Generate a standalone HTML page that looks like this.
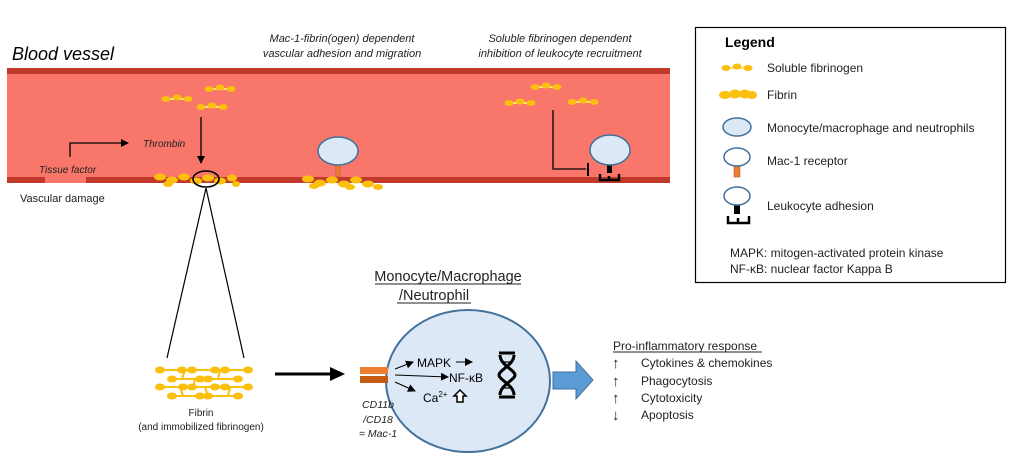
<!DOCTYPE html>
<html><head><meta charset="utf-8"><style>
html,body{margin:0;padding:0;background:#fff;}
svg{display:block;font-family:"Liberation Sans",sans-serif;}
</style></head><body>
<svg width="1016" height="464" viewBox="0 0 1016 464" xmlns="http://www.w3.org/2000/svg">
<defs>
<g id="sf"><line x1="0" y1="0" x2="30" y2="0" stroke="#ffe08a" stroke-width="2"/><ellipse cx="4" cy="0" rx="4.5" ry="3" fill="#fbbf0d"/><ellipse cx="15" cy="-1.5" rx="4.5" ry="3" fill="#fbbf0d"/><ellipse cx="26" cy="0" rx="4.5" ry="3" fill="#fbbf0d"/></g>
<marker id="ah" markerWidth="8" markerHeight="8" refX="7" refY="4" orient="auto" markerUnits="userSpaceOnUse"><path d="M0,0 L8,4 L0,8z" fill="#000"/></marker>
</defs>
<rect x="7" y="68" width="663" height="115" fill="#f8766a"/>
<rect x="7" y="68" width="663" height="6" fill="#c0392b"/>
<rect x="7" y="177" width="663" height="6" fill="#c0392b"/>
<rect x="45" y="177" width="41" height="6" fill="#f8766a"/>
<text x="12" y="60" font-size="18" font-style="italic" fill="#000">Blood vessel</text>
<text x="342" y="42" font-size="11" font-style="italic" text-anchor="middle" fill="#222">Mac-1-fibrin(ogen) dependent</text>
<text x="342" y="57" font-size="11" font-style="italic" text-anchor="middle" fill="#222">vascular adhesion and migration</text>
<text x="560" y="42" font-size="11" font-style="italic" text-anchor="middle" fill="#222">Soluble fibrinogen dependent</text>
<text x="560" y="57" font-size="11" font-style="italic" text-anchor="middle" fill="#222">inhibition of leukocyte recruitment</text>
<text x="39" y="173" font-size="10" font-style="italic" fill="#222">Tissue factor</text>
<text x="20" y="202" font-size="11" fill="#222">Vascular damage</text>
<use href="#sf" x="162" y="99"/><use href="#sf" x="205" y="89"/><use href="#sf" x="197" y="107"/>
<use href="#sf" x="531" y="87"/><use href="#sf" x="505" y="103"/><use href="#sf" x="568" y="102"/>
<path d="M70,157 V143 H128" fill="none" stroke="#000" stroke-width="1.3" marker-end="url(#ah)"/>
<text x="143" y="147" font-size="10" font-style="italic" fill="#222">Thrombin</text>
<line x1="201" y1="117" x2="201" y2="163" stroke="#000" stroke-width="1.3" marker-end="url(#ah)"/>
<g fill="#fbbf0d">
<ellipse cx="160" cy="177" rx="6" ry="3.5"/><ellipse cx="172" cy="180" rx="6" ry="3.5"/><ellipse cx="184" cy="177" rx="6" ry="3.5"/><ellipse cx="196" cy="181" rx="6" ry="3.5"/><ellipse cx="208" cy="178" rx="6" ry="3.5"/><ellipse cx="220" cy="181" rx="6" ry="3.5"/><ellipse cx="232" cy="178" rx="5" ry="3.5"/><ellipse cx="236" cy="184" rx="4" ry="3"/><ellipse cx="168" cy="184" rx="5" ry="3"/>
<ellipse cx="308" cy="179" rx="6" ry="3.5"/><ellipse cx="320" cy="183" rx="6" ry="3.5"/><ellipse cx="332" cy="180" rx="6" ry="3.5"/><ellipse cx="344" cy="184" rx="6" ry="3.5"/><ellipse cx="356" cy="180" rx="6" ry="3.5"/><ellipse cx="368" cy="184" rx="6" ry="3.5"/><ellipse cx="378" cy="187" rx="5" ry="3"/><ellipse cx="314" cy="186" rx="5" ry="3"/><ellipse cx="350" cy="187" rx="5" ry="3"/>
</g>
<ellipse cx="206" cy="179" rx="13" ry="8" fill="none" stroke="#000" stroke-width="1.6"/>
<rect x="336" y="165" width="4" height="12" fill="#ed7d31" stroke="#a0522d" stroke-width="0.5"/>
<ellipse cx="338" cy="151" rx="20" ry="14" fill="#dce8f5" stroke="#41719c" stroke-width="1.5"/>
<path d="M553,110 V169 H586" fill="none" stroke="#000" stroke-width="1.3"/>
<line x1="588" y1="163" x2="588" y2="176" stroke="#000" stroke-width="2"/>
<rect x="607" y="165" width="5" height="8" fill="#000"/>
<path d="M600,174 V180 H619 V174 M609,176 V180" fill="none" stroke="#000" stroke-width="2.5"/>
<ellipse cx="610" cy="150" rx="20" ry="15" fill="#dce8f5" stroke="#41719c" stroke-width="1.5"/>
<line x1="206" y1="188" x2="167" y2="358" stroke="#000" stroke-width="1.2"/>
<line x1="206" y1="188" x2="244" y2="358" stroke="#000" stroke-width="1.2"/>
<g stroke="#fbbf0d" stroke-width="2" fill="none">
<line x1="160" y1="370" x2="250" y2="370"/><line x1="170" y1="379" x2="240" y2="379"/><line x1="160" y1="387" x2="250" y2="387"/><line x1="170" y1="396" x2="240" y2="396"/>
<line x1="185" y1="370" x2="182" y2="379"/><line x1="220" y1="370" x2="218" y2="379"/><line x1="195" y1="379" x2="193" y2="387"/><line x1="205" y1="387" x2="208" y2="396"/><line x1="180" y1="387" x2="183" y2="396"/><line x1="230" y1="387" x2="228" y2="396"/>
</g>
<g fill="#fbbf0d">
<ellipse cx="160" cy="370" rx="5" ry="3.5"/><ellipse cx="182" cy="370" rx="5" ry="3.5"/><ellipse cx="192" cy="370" rx="5" ry="3.5"/><ellipse cx="215" cy="370" rx="5" ry="3.5"/><ellipse cx="225" cy="370" rx="5" ry="3.5"/><ellipse cx="248" cy="370" rx="5" ry="3.5"/>
<ellipse cx="172" cy="379" rx="5" ry="3.5"/><ellipse cx="200" cy="379" rx="5" ry="3.5"/><ellipse cx="208" cy="379" rx="5" ry="3.5"/><ellipse cx="238" cy="379" rx="5" ry="3.5"/>
<ellipse cx="160" cy="387" rx="5" ry="3.5"/><ellipse cx="183" cy="387" rx="5" ry="3.5"/><ellipse cx="192" cy="387" rx="5" ry="3.5"/><ellipse cx="215" cy="387" rx="5" ry="3.5"/><ellipse cx="225" cy="387" rx="5" ry="3.5"/><ellipse cx="248" cy="387" rx="5" ry="3.5"/>
<ellipse cx="172" cy="396" rx="5" ry="3.5"/><ellipse cx="200" cy="396" rx="5" ry="3.5"/><ellipse cx="208" cy="396" rx="5" ry="3.5"/><ellipse cx="238" cy="396" rx="5" ry="3.5"/>
</g>
<text x="201" y="416" font-size="10" text-anchor="middle" fill="#222">Fibrin</text>
<text x="201" y="430" font-size="10" text-anchor="middle" fill="#222">(and immobilized fibrinogen)</text>
<line x1="275" y1="374" x2="332" y2="374" stroke="#000" stroke-width="3"/>
<path d="M330,367 L345,374 L330,381z" fill="#000"/>
<text x="448" y="281" font-size="14.5" text-anchor="middle" fill="#222">Monocyte/Macrophage</text>
<line x1="375" y1="284" x2="521" y2="284" stroke="#222" stroke-width="1"/>
<text x="434" y="300" font-size="14.5" text-anchor="middle" fill="#222">/Neutrophil</text>
<line x1="397" y1="303" x2="471" y2="303" stroke="#222" stroke-width="1"/>
<ellipse cx="468" cy="381" rx="82" ry="71" fill="#dce8f5" stroke="#41719c" stroke-width="2"/>
<rect x="360" y="367" width="28" height="7" fill="#ed7d31"/>
<rect x="360" y="376" width="28" height="7" fill="#c55a11"/>
<text x="378" y="408" font-size="10.5" font-style="italic" text-anchor="middle" fill="#222">CD11b</text>
<text x="378" y="423" font-size="10.5" font-style="italic" text-anchor="middle" fill="#222">/CD18</text>
<text x="378" y="437" font-size="10.5" font-style="italic" text-anchor="middle" fill="#222">= Mac-1</text>
<g stroke="#000" stroke-width="1" fill="none">
<line x1="395" y1="369" x2="413" y2="362" marker-end="url(#ah)"/>
<line x1="456" y1="362" x2="472" y2="362" marker-end="url(#ah)"/>
<line x1="395" y1="375" x2="448" y2="377" marker-end="url(#ah)"/>
<line x1="395" y1="382" x2="415" y2="391" marker-end="url(#ah)"/>
</g>
<text x="417" y="367" font-size="12" fill="#000">MAPK</text>
<text x="449" y="382" font-size="12" fill="#000">NF-κB</text>
<text x="423" y="402" font-size="12" fill="#000">Ca<tspan font-size="8" dy="-5">2+</tspan></text>
<path d="M460,390 L466,396 H463 V402 H457 V396 H454z" fill="#fff" stroke="#000" stroke-width="1.5"/>
<g stroke="#000" stroke-width="3" fill="none">
<path d="M499,353 H515 M499,397 H515"/>
<path d="M500,355 C500,365 515,370 515,375 C515,380 500,385 500,395"/>
<path d="M514,355 C514,365 499,370 499,375 C499,380 514,385 514,395"/>
</g>
<g stroke="#000" stroke-width="1.2"><line x1="503" y1="362" x2="511" y2="362"/><line x1="503" y1="388" x2="511" y2="388"/></g>
<path d="M553,372 H576 V361 L593,380 L576,399 V389 H553z" fill="#5b9bd5" stroke="#41719c" stroke-width="1"/>
<text x="613" y="350" font-size="12" fill="#222">Pro-inflammatory response</text>
<line x1="613" y1="352" x2="762" y2="352" stroke="#222" stroke-width="1"/>
<g font-size="12" fill="#222">
<text x="612" y="368" font-size="15">↑</text><text x="641" y="367">Cytokines &amp; chemokines</text>
<text x="612" y="386" font-size="15">↑</text><text x="641" y="385">Phagocytosis</text>
<text x="612" y="403" font-size="15">↑</text><text x="641" y="402">Cytotoxicity</text>
<text x="612" y="420" font-size="15">↓</text><text x="641" y="419">Apoptosis</text>
</g>
<rect x="695.5" y="27.5" width="310" height="255" fill="#fff" stroke="#000" stroke-width="1.2"/>
<text x="725" y="47" font-size="14" font-weight="bold" fill="#000">Legend</text>
<g font-size="12" fill="#222">
<text x="767" y="72">Soluble fibrinogen</text>
<text x="767" y="99">Fibrin</text>
<text x="767" y="132">Monocyte/macrophage and neutrophils</text>
<text x="767" y="165">Mac-1 receptor</text>
<text x="767" y="210">Leukocyte adhesion</text>
<text x="730" y="257">MAPK: mitogen-activated protein kinase</text>
<text x="730" y="273">NF-κB: nuclear factor Kappa B</text>
</g>
<use href="#sf" x="722" y="68"/>
<g fill="#fbbf0d"><ellipse cx="725" cy="95" rx="6" ry="4"/><ellipse cx="735" cy="94" rx="6" ry="4.5"/><ellipse cx="745" cy="94" rx="6" ry="4.5"/><ellipse cx="752" cy="95" rx="5" ry="4"/></g>
<ellipse cx="737" cy="127" rx="14" ry="9" fill="#dce8f5" stroke="#41719c" stroke-width="1.5"/>
<rect x="734" y="165" width="6" height="12" fill="#ed7d31" stroke="#a0522d" stroke-width="0.5"/>
<ellipse cx="737" cy="157" rx="13" ry="9" fill="#fff" stroke="#41719c" stroke-width="1.5"/>
<rect x="734" y="205" width="6" height="9" fill="#000"/>
<path d="M728,216 V223 H749 V216 M738,218 V223" fill="none" stroke="#000" stroke-width="2.5"/>
<ellipse cx="737" cy="196" rx="13" ry="9" fill="#fff" stroke="#41719c" stroke-width="1.5"/>
</svg>
</body></html>
